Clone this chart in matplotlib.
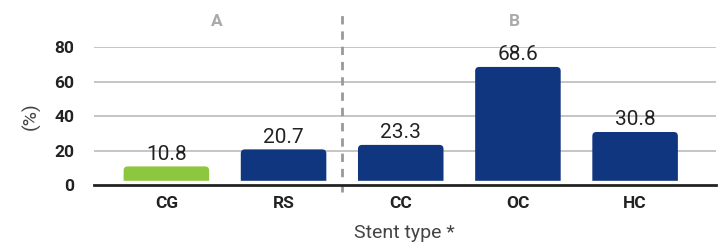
import matplotlib
matplotlib.use("Agg")
import matplotlib.pyplot as plt
from matplotlib.patches import FancyBboxPatch

plt.rcParams['font.family'] = ['Roboto', 'DejaVu Sans']

categories = ["CG", "RS", "CC", "OC", "HC"]
values = [10.8, 20.7, 23.3, 68.6, 30.8]
colors = ["#8dc63f", "#10367f", "#10367f", "#10367f", "#10367f"]
groups = ["A", "B"]
yticks = [0, 20, 40, 60, 80]

fig = plt.figure(figsize=(7.21, 2.42), dpi=100)
ax = fig.add_axes([0.130, 0.2355, 0.863, 0.569])

bars = ax.bar(range(len(categories)), values, width=0.73, color=colors, zorder=2)
# replace with rounded-top bars
for b in bars:
    x, y = b.get_x(), b.get_y()
    w, h = b.get_width(), b.get_height()
    b.set_visible(False)
    p = FancyBboxPatch((x, y), w, h, boxstyle="round,pad=0,rounding_size=0.035",
                       mutation_aspect=68,
                       facecolor=b.get_facecolor(), edgecolor="none", zorder=2)
    ax.add_patch(p)
    ax.text(x + w / 2, y + h + 1.5, f"{h:.1f}", ha="center", va="bottom",
            fontsize=15, color="#222222", zorder=4)

# white gap above baseline
ax.axhspan(0, 2.6, color="white", zorder=3)

ax.set_xlim(-0.62, 4.69)
ax.set_ylim(0, 80)
ax.set_yticks(yticks)
ax.set_xticks(range(len(categories)))
ax.set_xticklabels(categories, fontsize=12.5, fontweight="bold", color="#222222")
ax.set_yticklabels([str(t) for t in yticks], fontsize=12.5, fontweight="bold", color="#222222")
ax.tick_params(axis="both", length=0, pad=8)
ax.tick_params(axis="y", pad=14)
ax.grid(axis="y", color="#bbbbbb", linewidth=1.2, zorder=0)
ax.set_axisbelow(True)
for s in ["top", "right", "left"]:
    ax.spines[s].set_visible(False)
ax.spines["bottom"].set_color("#222222")
ax.spines["bottom"].set_linewidth(2)
ax.spines["bottom"].set_zorder(5)

ax.set_ylabel("(%)", fontsize=14, color="#444444", labelpad=10)
ax.set_xlabel("Stent type *", fontsize=14, color="#444444", labelpad=9)

# dashed group separator
ax.plot([1.5, 1.5], [-0.05, 1.25], transform=ax.get_xaxis_transform(),
        linestyle=(0, (3, 2.5)), color="#999999", linewidth=2, clip_on=False, zorder=1)

ax.text(0.43, 1.19, groups[0], transform=ax.get_xaxis_transform(), ha="center", va="center",
        fontsize=12.5, fontweight="bold", color="#aaaaaa")
ax.text(2.97, 1.19, groups[1], transform=ax.get_xaxis_transform(), ha="center", va="center",
        fontsize=12.5, fontweight="bold", color="#aaaaaa")

fig.savefig("out.png", dpi=100)
